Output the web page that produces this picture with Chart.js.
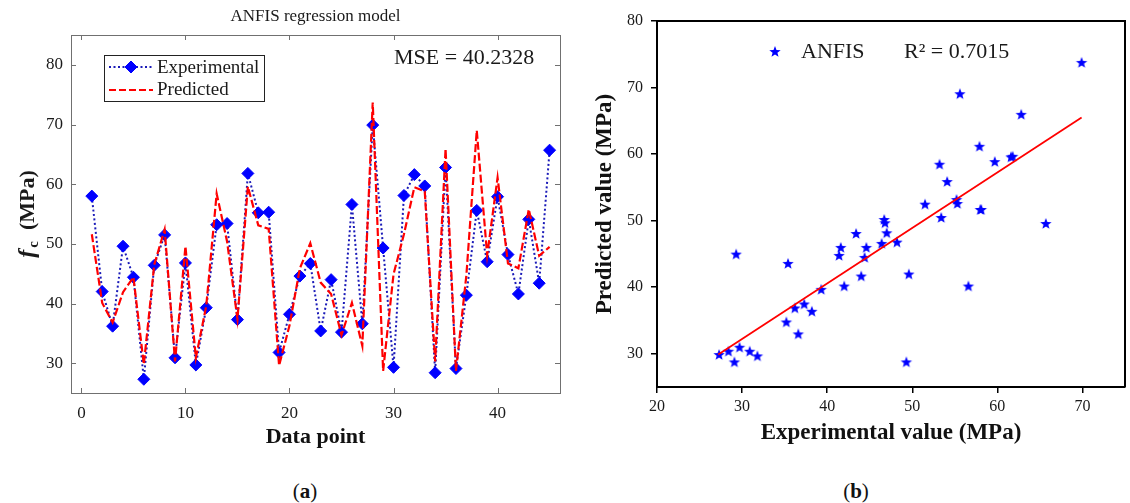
<!DOCTYPE html>
<html>
<head>
<meta charset="utf-8">
<script src="https://cdn.jsdelivr.net/npm/chart.js@4.4.1/dist/chart.umd.min.js"></script>
<style>
  body { margin: 0; background: #fff; width: 1130px; height: 503px; position: relative; overflow: hidden;
         font-family: 'Liberation Serif', 'Times New Roman', serif; }
  #chartA { position: absolute; left: 0; top: 0; }
  #chartB { position: absolute; left: 575px; top: 0; }
  .cap { position: absolute; top: 479px; width: 60px; text-align: center; font-size: 21px; line-height: 24px; color: #111; }
</style>
</head>
<body>
<canvas id="chartA" width="575" height="460"></canvas>
<canvas id="chartB" width="555" height="460"></canvas>
<div class="cap" style="left:275px">(<b>a</b>)</div>
<div class="cap" style="left:826px">(<b>b</b>)</div>
<script>
// data
const dataPoints = [1,2,3,4,5,6,7,8,9,10,11,12,13,14,15,16,17,18,19,20,21,22,23,24,25,26,27,28,29,30,31,32,33,34,35,36,37,38,39,40,41,42,43,44,45];
const experimental = [58.0,42.0,36.2,49.6,44.4,27.3,46.4,51.5,30.9,46.8,29.7,39.3,53.2,53.4,37.3,61.8,55.2,55.3,31.8,38.2,
                      44.6,46.7,35.4,44.0,35.2,56.6,36.6,69.9,49.3,29.3,58.1,61.6,59.7,28.4,62.8,29.1,41.4,55.6,47.0,57.9,
                      48.2,41.6,54.1,43.4,65.7];
const predicted = [51.6,40.1,36.8,41.9,44.4,29.8,46.5,52.4,30.3,49.6,30.9,39.6,58.4,50.4,37.4,59.6,53.1,52.5,29.6,36.3,
                   45.9,50.1,43.5,41.6,34.7,40.1,32.9,73.7,28.7,44.9,51.6,59.5,58.8,30.3,65.9,28.7,44.7,69.0,48.1,61.1,
                   46.7,45.9,55.8,48.0,49.5];
const fitX = [27.2, 69.9];
const fitY = [29.9, 65.5];

const xTicksA = [0, 10, 20, 30, 40];
const yTicksA = [30, 40, 50, 60, 70, 80];
const xTicksB = [20, 30, 40, 50, 60, 70];
const yTicksB = [30, 40, 50, 60, 70, 80];

const serif = "'Liberation Serif', 'Times New Roman', serif";
const ink = '#1a1a1a';

function makeStar(r) {
  const c = document.createElement('canvas');
  const s = Math.ceil(r * 2) + 2;
  c.width = c.height = s;
  const g = c.getContext('2d');
  g.fillStyle = '#0000ff';
  g.beginPath();
  for (let i = 0; i < 10; i++) {
    const rad = i % 2 ? r * 0.42 : r;
    const ang = -Math.PI / 2 + i * Math.PI / 5;
    g.lineTo(s / 2 + rad * Math.cos(ang), s / 2 + rad * Math.sin(ang));
  }
  g.closePath();
  g.fill();
  return c;
}
const star = makeStar(6);

// frame, inward ticks, title, legend for (a)
const decorA = {
  id: 'decorA',
  afterDraw(chart) {
    const {ctx, chartArea: a, scales: {x, y}} = chart;
    ctx.save();
    ctx.strokeStyle = '#707070';
    ctx.lineWidth = 1;
    ctx.strokeRect(a.left + 0.5, a.top + 0.5, a.right - a.left, a.bottom - a.top);
    ctx.beginPath();
    xTicksA.forEach(v => {
      const px = Math.round(x.getPixelForValue(v)) + 0.5;
      ctx.moveTo(px, a.bottom); ctx.lineTo(px, a.bottom - 5);
      ctx.moveTo(px, a.top); ctx.lineTo(px, a.top + 5);
    });
    yTicksA.forEach(v => {
      const py = Math.round(y.getPixelForValue(v)) + 0.5;
      ctx.moveTo(a.left, py); ctx.lineTo(a.left + 5, py);
      ctx.moveTo(a.right, py); ctx.lineTo(a.right - 5, py);
    });
    ctx.stroke();

    ctx.fillStyle = ink;
    ctx.textBaseline = 'middle';
    ctx.textAlign = 'center';
    ctx.font = '17px ' + serif;
    ctx.fillText('ANFIS regression model', (a.left + a.right) / 2, 17);

    ctx.textAlign = 'left';
    ctx.font = '22px ' + serif;
    ctx.fillText('MSE = 40.2328', 394, 58);

    // legend box
    ctx.fillStyle = '#fff';
    ctx.fillRect(104, 55, 160, 46);
    ctx.strokeStyle = '#222';
    ctx.strokeRect(104.5, 55.5, 160, 46);
    ctx.lineWidth = 2;
    ctx.strokeStyle = '#1a1ab8';
    ctx.setLineDash([2, 2.5]);
    ctx.beginPath(); ctx.moveTo(109, 67); ctx.lineTo(153, 67); ctx.stroke();
    ctx.strokeStyle = '#ff0000';
    ctx.setLineDash([7, 3]);
    ctx.beginPath(); ctx.moveTo(109, 90); ctx.lineTo(153, 90); ctx.stroke();
    ctx.setLineDash([]);
    ctx.fillStyle = '#0000ff';
    ctx.strokeStyle = '#0000ff';
    ctx.lineWidth = 1;
    Chart.helpers.drawPoint(ctx, {pointStyle: 'rectRot', radius: 6, rotation: 0, borderWidth: 1}, 131, 67);
    ctx.fillStyle = ink;
    ctx.font = '19px ' + serif;
    ctx.fillText('Experimental', 157, 68);
    ctx.fillText('Predicted', 157, 90);

    // y axis label with italic f and subscript c
    ctx.translate(28, (a.top + a.bottom) / 2);
    ctx.rotate(-Math.PI / 2);
    const f1 = 'italic bold 24px ' + serif, f2 = 'bold 15px ' + serif, f3 = 'bold 22px ' + serif;
    ctx.font = f1; const w1 = ctx.measureText('f').width + 2;
    ctx.font = f2; const w2 = ctx.measureText('c').width;
    ctx.font = f3; const w3 = ctx.measureText('  (MPa)').width;
    let sx = -(w1 + w2 + w3) / 2;
    ctx.font = f1; ctx.fillText('f', sx, 0); sx += w1;
    ctx.font = f2; ctx.fillText('c', sx, 6); sx += w2;
    ctx.font = f3; ctx.fillText('  (MPa)', sx, 0);
    ctx.restore();
  }
};

// top/right border and legend for (b)
const decorB = {
  id: 'decorB',
  afterDraw(chart) {
    const {ctx, chartArea: a} = chart;
    ctx.save();
    ctx.strokeStyle = '#000';
    ctx.lineWidth = 2;
    ctx.beginPath();
    ctx.moveTo(a.left, a.top); ctx.lineTo(a.right, a.top); ctx.lineTo(a.right, a.bottom);
    ctx.stroke();
    ctx.drawImage(star, 200 - star.width / 2, 52 - star.height / 2);
    ctx.fillStyle = ink;
    ctx.textBaseline = 'middle';
    ctx.font = '22px ' + serif;
    ctx.fillText('ANFIS', 226, 52);
    ctx.fillText('R\u00B2 = 0.7015', 329, 52);
    ctx.restore();
  }
};

const chartA = new Chart(document.getElementById('chartA'), {
  type: 'line',
  data: {
    datasets: [{
      label: 'Experimental',
      data: dataPoints.map((p, i) => ({x: p, y: experimental[i]})),
      borderColor: '#1a1ab8',
      borderWidth: 2,
      borderDash: [2, 2.5],
      pointStyle: 'rectRot',
      pointRadius: 6,
      pointBackgroundColor: '#0000ff',
      pointBorderColor: '#0000ff',
      pointBorderWidth: 1,
      tension: 0,
      order: 2
    }, {
      label: 'Predicted',
      data: dataPoints.map((p, i) => ({x: p, y: predicted[i]})),
      borderColor: '#ff0000',
      borderWidth: 2.2,
      borderDash: [8, 3],
      pointRadius: 0,
      tension: 0,
      order: 1
    }]
  },
  options: {
    responsive: false,
    animation: false,
    layout: {padding: {left: 0, top: 35, right: 15, bottom: 0}},
    plugins: {legend: {display: false}, tooltip: {enabled: false}},
    scales: {
      x: {
        type: 'linear', min: -1, max: 46,
        afterBuildTicks: s => { s.ticks = xTicksA.map(v => ({value: v})); },
        afterFit: s => { s.height = 67; },
        grid: {display: false, drawTicks: false},
        border: {display: false},
        ticks: {font: {family: serif, size: 17}, color: ink, padding: 10},
        title: {display: true, text: 'Data point', color: '#111',
                font: {family: serif, size: 22, weight: 'bold'}, padding: {top: 0, bottom: 9}}
      },
      y: {
        min: 25, max: 85,
        afterBuildTicks: s => { s.ticks = yTicksA.map(v => ({value: v})); },
        afterFit: s => { s.width = 71; },
        grid: {display: false, drawTicks: false},
        border: {display: false},
        ticks: {font: {family: serif, size: 17}, color: ink, padding: 8}
      }
    }
  },
  plugins: [decorA]
});

const chartB = new Chart(document.getElementById('chartB'), {
  type: 'scatter',
  data: {
    datasets: [{
      label: 'ANFIS',
      data: experimental.map((v, i) => ({x: v, y: predicted[i]})),
      pointStyle: star,
      order: 2
    }, {
      type: 'line',
      label: 'fit',
      data: fitX.map((v, i) => ({x: v, y: fitY[i]})),
      borderColor: '#ff0000',
      borderWidth: 1.8,
      pointRadius: 0,
      order: 1
    }]
  },
  options: {
    responsive: false,
    animation: false,
    layout: {padding: {left: 0, top: 21, right: 3, bottom: 0}},
    plugins: {legend: {display: false}, tooltip: {enabled: false}},
    scales: {
      x: {
        type: 'linear', min: 20, max: 75,
        afterBuildTicks: s => { s.ticks = xTicksB.map(v => ({value: v})); },
        afterFit: s => { s.height = 73; },
        grid: {drawOnChartArea: false, drawTicks: true, tickLength: 6, color: '#000', lineWidth: 1.5},
        border: {display: true, color: '#000', width: 2},
        ticks: {font: {family: serif, size: 16}, color: ink, padding: 4},
        title: {display: true, text: 'Experimental value (MPa)', color: '#111',
                font: {family: serif, size: 23, weight: 'bold'}, padding: {top: 0, bottom: 13}}
      },
      y: {
        type: 'linear', min: 25, max: 80,
        afterBuildTicks: s => { s.ticks = yTicksB.map(v => ({value: v})); },
        afterFit: s => { s.width = 82; },
        grid: {drawOnChartArea: false, drawTicks: true, tickLength: 6, color: '#000', lineWidth: 1.5},
        border: {display: true, color: '#000', width: 2},
        ticks: {font: {family: serif, size: 16}, color: ink, padding: 8},
        title: {display: true, text: 'Predicted value (MPa)', color: '#111',
                font: {family: serif, size: 23, weight: 'bold'}, padding: {top: 16, bottom: 0}}
      }
    }
  },
  plugins: [decorB]
});
</script>
</body>
</html>
